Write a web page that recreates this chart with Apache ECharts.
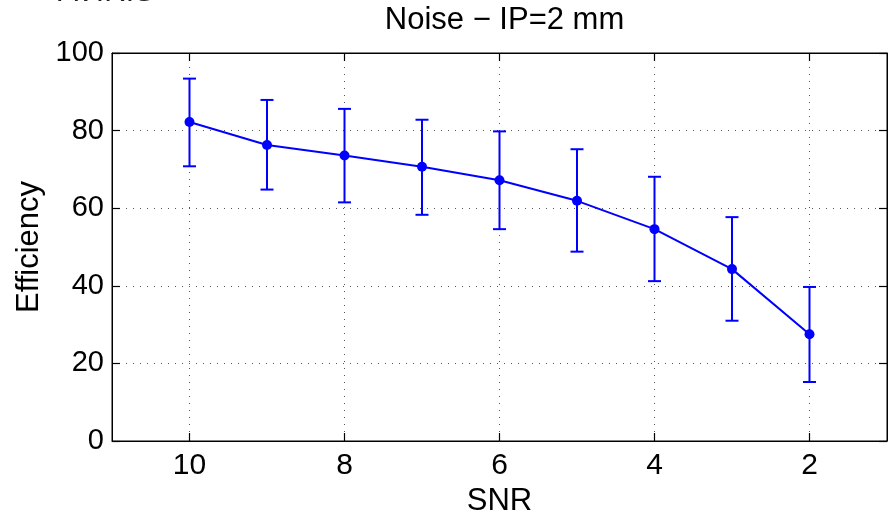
<!DOCTYPE html>
<html>
<head>
<meta charset="utf-8">
<script src="https://cdn.jsdelivr.net/npm/echarts@6/dist/echarts.min.js"></script>
<style>
  html, body { margin: 0; padding: 0; background: #fff; }
  #chart { width: 894px; height: 515px; }
</style>
</head>
<body>
<div id="chart"></div>
<script>
// Detection efficiency vs. signal-to-noise ratio, with error bars
const snr = [10, 9, 8, 7, 6, 5, 4, 3, 2];
const efficiency = [82.2, 76.3, 73.6, 70.7, 67.2, 61.9, 54.6, 44.3, 27.5];
const errUpper = [93.4, 87.9, 85.6, 82.8, 79.8, 75.2, 68.1, 57.7, 39.7];
const errLower = [70.8, 64.8, 61.5, 58.3, 54.6, 48.8, 41.2, 31.0, 15.2];
const xTicks = [2, 4, 6, 8, 10];
const yTicks = [0, 20, 40, 60, 80, 100];

const FONT = 'Liberation Sans, Arial, Helvetica, sans-serif';
const BLUE = '#0000ff';

const lineData = snr.map((s, i) => [s, efficiency[i]]);
const barData = snr.map((s, i) => [s, errLower[i], errUpper[i]]);

const chart = echarts.init(document.getElementById('chart'), null, { renderer: 'canvas' });

const tickStyle = { show: true, inside: true, length: 8, lineStyle: { color: '#000', width: 1.2 } };
const gridLine = { show: true, lineStyle: { color: '#555', type: [1, 6], width: 1 } };

chart.setOption({
  animation: false,
  backgroundColor: '#fff',
  title: {
    text: 'Noise \u2212 IP=2 mm',
    left: 499.5,
    textAlign: 'center',
    top: 0,
    textStyle: { fontFamily: FONT, fontSize: 31, fontWeight: 'normal', color: '#000' }
  },
  graphic: [{
    type: 'text',
    left: 58,
    top: -22,
    style: { text: 'AVIRIS', font: '30px ' + FONT, fill: '#222' }
  }],
  grid: {
    left: 112, right: 7, top: 53, bottom: 74,
    outerBoundsMode: 'none',
    show: true, borderColor: '#000', borderWidth: 1
  },
  xAxis: [{
    type: 'value',
    inverse: true,
    min: 1,
    max: 11,
    name: 'SNR',
    nameLocation: 'middle',
    nameGap: 39,
    nameTextStyle: { fontFamily: FONT, fontSize: 31, color: '#000' },
    axisLine: { show: true, onZero: false, lineStyle: { color: '#000', width: 1 } },
    axisTick: Object.assign({ customValues: xTicks }, tickStyle),
    axisLabel: { customValues: xTicks, fontFamily: FONT, fontSize: 30, color: '#000', margin: 10 },
    splitLine: gridLine
  }, {
    type: 'value',
    position: 'top',
    inverse: true,
    min: 1,
    max: 11,
    axisLine: { show: true, onZero: false, lineStyle: { color: '#000', width: 1 } },
    axisTick: Object.assign({ customValues: xTicks }, tickStyle),
    axisLabel: { show: false },
    splitLine: { show: false }
  }],
  yAxis: [{
    type: 'value',
    min: 0,
    max: 100,
    interval: 20,
    name: 'Efficiency',
    nameLocation: 'middle',
    nameGap: 66,
    nameTextStyle: { fontFamily: FONT, fontSize: 31, color: '#000' },
    axisLine: { show: true, onZero: false, lineStyle: { color: '#000', width: 1 } },
    axisTick: tickStyle,
    axisLabel: { fontFamily: FONT, fontSize: 29, color: '#000', margin: 8,
                 formatter: v => yTicks.includes(v) ? String(v) : '' },
    splitLine: gridLine
  }, {
    type: 'value',
    position: 'right',
    min: 0,
    max: 100,
    interval: 20,
    axisLine: { show: true, onZero: false, lineStyle: { color: '#000', width: 1 } },
    axisTick: tickStyle,
    axisLabel: { show: false },
    splitLine: { show: false }
  }],
  series: [{
    type: 'custom',
    name: 'error',
    xAxisIndex: 0,
    yAxisIndex: 0,
    data: barData,
    z: 3,
    renderItem: function (params, api) {
      const x = api.value(0);
      const lo = api.coord([x, api.value(1)]);
      const hi = api.coord([x, api.value(2)]);
      const half = 6.5;
      const style = { stroke: BLUE, lineWidth: 2, fill: null };
      return {
        type: 'group',
        children: [
          { type: 'line', shape: { x1: hi[0], y1: hi[1], x2: lo[0], y2: lo[1] }, style: style },
          { type: 'line', shape: { x1: hi[0] - half, y1: hi[1], x2: hi[0] + half, y2: hi[1] }, style: style },
          { type: 'line', shape: { x1: lo[0] - half, y1: lo[1], x2: lo[0] + half, y2: lo[1] }, style: style }
        ]
      };
    }
  }, {
    type: 'line',
    name: 'Efficiency',
    xAxisIndex: 0,
    yAxisIndex: 0,
    data: lineData,
    z: 4,
    symbol: 'circle',
    symbolSize: 10,
    lineStyle: { color: BLUE, width: 2 },
    itemStyle: { color: BLUE }
  }]
});
</script>
</body>
</html>
